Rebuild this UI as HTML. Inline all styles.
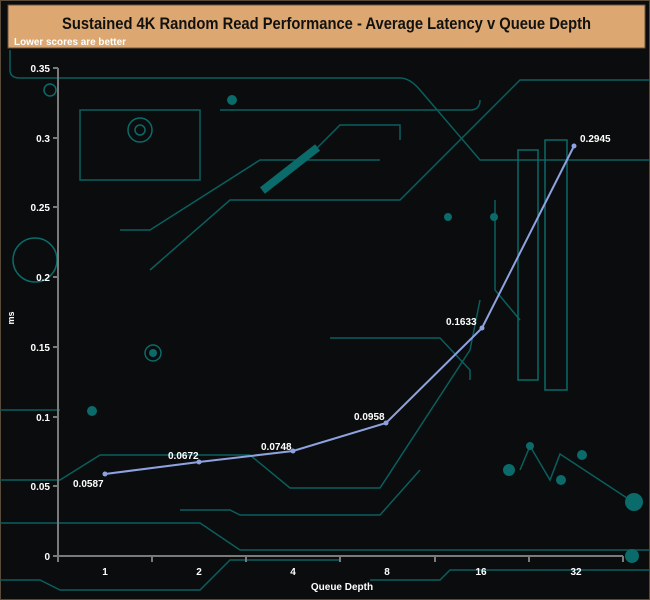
<!DOCTYPE html>
<html><head><style>
body{margin:0;background:#0b0c0d;}
svg{display:block}
text{font-family:"Liberation Sans",Arial,sans-serif;}
</style></head><body>
<svg width="650" height="600" viewBox="0 0 650 600" xmlns="http://www.w3.org/2000/svg">
<rect width="650" height="600" fill="#0b0c0d"/>
<rect x="0.5" y="0.5" width="649" height="599" fill="none" stroke="#5a4a3a"/>
<g fill="none" stroke="#0b5e5e" stroke-width="1.5">
<path d="M10 50 V70 Q10 78 20 78 H400 Q410 78 420 90 L480 160 H650"/>
<path d="M80 110 H200 V180 H80 Z"/>
<path d="M220 110 H470 Q480 110 480 100"/>
<path d="M300 165 L340 125 H400 V140"/>
<path d="M150 270 L230 200 H400 L520 80 H650"/>
<path d="M120 230 H150 L260 160 H380"/>
<path d="M0 480 H60 L100 455 H250 L290 488 H380 L470 350 L480 300"/>
<path d="M0 523 H200 L240 550 H650"/>
<path d="M180 510 H230 L240 515 H380 L420 470"/>
<path d="M0 580 H40 L60 590 H200 L230 560 H340"/>
<path d="M370 580 H440 L450 570 H650"/>
<path d="M520 470 L530 446 L550 480 L560 454 L630 500"/>
<path d="M330 338 H440 L470 370 V380"/>
<path d="M0 410 H60"/>
<path d="M495 200 V290 L520 320"/>
</g>
<g fill="#0b6a6a">
<circle cx="92" cy="411" r="5"/><circle cx="509" cy="470" r="6"/><circle cx="530" cy="446" r="4"/>
<circle cx="561" cy="480" r="5"/><circle cx="582" cy="455" r="5"/><circle cx="634" cy="502" r="9"/>
<circle cx="632" cy="556" r="7"/><circle cx="232" cy="100" r="5"/><circle cx="153" cy="353" r="4"/>
<rect x="255" y="165" width="70" height="8" transform="rotate(-38 290 169)"/>
<circle cx="448" cy="217" r="4"/><circle cx="494" cy="217" r="4"/>
</g>
<g fill="none" stroke="#0b6a6a" stroke-width="1.5">
<circle cx="140" cy="130" r="12"/><circle cx="140" cy="130" r="5"/>
<circle cx="50" cy="90" r="6"/><circle cx="153" cy="353" r="8"/>
<rect x="518" y="150" width="20" height="230"/><rect x="545" y="140" width="22" height="250"/>
<circle cx="35" cy="260" r="22"/>
</g>
<rect x="8" y="5" width="637" height="43" fill="#dca770" stroke="#6a5440"/>
<text x="62" y="29" font-size="17" font-weight="bold" fill="#111" textLength="529" lengthAdjust="spacingAndGlyphs">Sustained 4K Random Read Performance - Average Latency v Queue Depth</text>
<text x="14" y="45" font-size="10" font-weight="bold" fill="#fff" textLength="112" lengthAdjust="spacingAndGlyphs">Lower scores are better</text>
<g stroke="#7a7a7a" stroke-width="2" fill="none">
<path d="M58 68 V562"/><path d="M58 556 H623"/>
<path d="M53 68H58M53 138H58M53 207H58M53 277H58M53 347H58M53 417H58M53 486H58M53 556H58"/>
<path d="M152 556V562M246 556V562M340 556V562M435 556V562M529 556V562M623 556V562"/>
</g>
<g font-size="10" font-weight="bold" fill="#fff" text-anchor="end">
<text x="50" y="72">0.35</text><text x="50" y="142">0.3</text><text x="50" y="211">0.25</text>
<text x="50" y="281">0.2</text><text x="50" y="351">0.15</text><text x="50" y="421">0.1</text>
<text x="50" y="490">0.05</text><text x="50" y="560">0</text>
</g>
<g font-size="10" font-weight="bold" fill="#fff" text-anchor="middle">
<text x="105" y="575">1</text><text x="199" y="575">2</text><text x="293" y="575">4</text>
<text x="387" y="575">8</text><text x="481" y="575">16</text><text x="576" y="575">32</text>
<text x="342" y="590">Queue Depth</text>
<text x="14" y="318" transform="rotate(-90 14 318)" font-size="9">ms</text>
</g>
<polyline points="105,474 199,462 293,451 386,423 482,328 574,146" fill="none" stroke="#8ea2e0" stroke-width="2"/>
<g fill="#8ea2e0">
<circle cx="105" cy="474" r="2.5"/><circle cx="199" cy="462" r="2.5"/><circle cx="293" cy="451" r="2.5"/>
<circle cx="386" cy="423" r="2.5"/><circle cx="482" cy="328" r="2.5"/><circle cx="574" cy="146" r="2.5"/>
</g>
<g font-size="10" font-weight="bold" fill="#fff">
<text x="73" y="487">0.0587</text><text x="168" y="459">0.0672</text><text x="261" y="450">0.0748</text>
<text x="354" y="420">0.0958</text><text x="446" y="325">0.1633</text><text x="580" y="142">0.2945</text>
</g>
</svg>
</body></html>
